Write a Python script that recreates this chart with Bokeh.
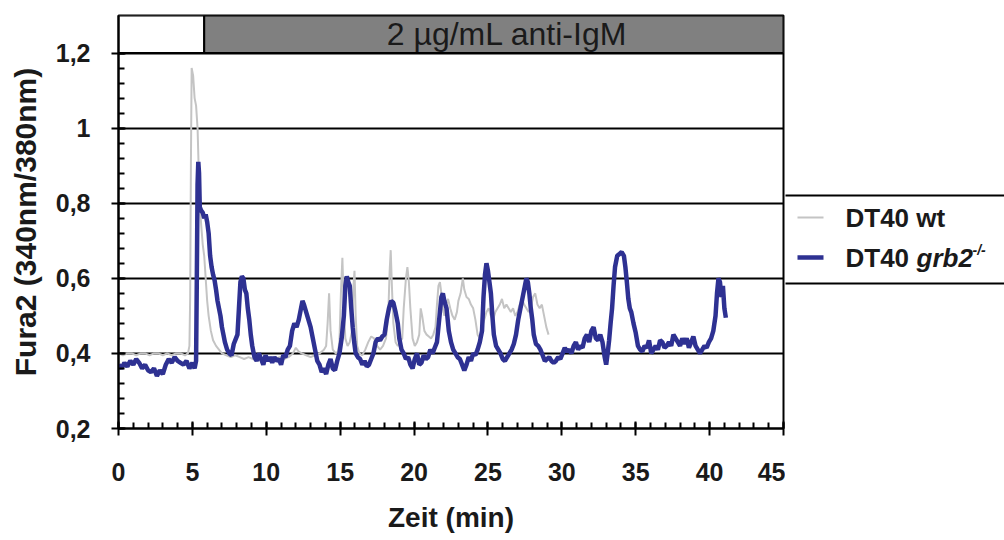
from bokeh.plotting import figure
from bokeh.models import FixedTicker, CustomJSTickFormatter, Label
from bokeh.layouts import row
from bokeh.core.properties import value
from bokeh.embed import file_html
from bokeh.resources import INLINE

# ---------------- data ----------------
grb2_t = [0.0,0.2,0.4,0.6,0.8,1.0,1.2,1.4,1.6,1.8,2.0,2.2,2.4,2.6,2.8,3.0,3.2,3.4,3.6,3.8,4.0,4.2,4.4,4.6,4.8,5.0,5.15,5.25,
          5.3,5.35,5.4,5.45,5.5,5.6,5.7,5.8,5.9,6.0,6.1,6.2,6.3,6.4,6.5,6.6,6.7,6.8,6.9,7.0,7.1,7.2,7.35,7.5,7.65,7.8,7.95,
          8.05,8.15,8.25,8.35,8.45,8.55,8.65,8.75,8.85,8.95,9.05,9.2,9.35,9.5,9.65,9.8,9.95,10.1,10.25,10.4,10.55,10.7,10.85,
          11.0,11.15,11.3,11.45,11.6,11.75,11.9,12.05,12.2,12.35,12.45,12.55,12.7,12.85,13.0,13.15,13.3,13.45,13.6,13.75,13.9,
          14.05,14.2,14.35,14.5,14.65,14.8,14.95,15.1,15.25,15.35,15.45,15.55,15.65,15.75,15.85,15.95,16.05,16.2,16.35,16.5,
          16.65,16.8,16.95,17.1,17.25,17.4,17.55,17.7,17.85,18.0,18.15,18.3,18.45,18.6,18.75,18.9,19.0,19.15,19.3,19.45,19.6,
          19.75,19.9,20.05,20.2,20.35,20.5,20.65,20.8,20.95,21.1,21.25,21.4,21.55,21.7,21.85,21.95,22.05,22.2,22.35,22.5,22.65,
          22.8,22.95,23.1,23.25,23.4,23.55,23.7,23.85,24.0,24.15,24.3,24.45,24.6,24.7,24.8,24.9,25.0,25.1,25.2,25.3,25.4,25.55,
          25.7,25.85,26.0,26.15,26.3,26.45,26.6,26.75,26.9,27.05,27.2,27.35,27.5,27.6,27.7,27.8,27.9,28.0,28.1,28.25,28.4,
          28.55,28.7,28.85,29.0,29.15,29.3,29.45,29.6,29.75,29.9,30.05,30.2,30.35,30.5,30.65,30.8,30.95,31.1,31.25,31.4,31.55,
          31.7,31.85,32.0,32.15,32.3,32.45,32.6,32.75,32.9,33.0,33.1,33.2,33.3,33.4,33.5,33.6,33.75,33.9,34.05,34.2,34.3,34.4,
          34.5,34.6,34.7,34.85,35.0,35.15,35.3,35.45,35.6,35.75,35.9,36.05,36.2,36.35,36.5,36.65,36.8,36.95,37.1,37.25,37.4,
          37.55,37.7,37.85,38.0,38.15,38.3,38.45,38.6,38.75,38.9,39.05,39.2,39.35,39.5,39.65,39.8,39.95,40.1,40.25,40.4,40.5,
          40.6,40.7,40.8,40.9,41.0,41.1]
grb2_v = [0.37,0.36,0.375,0.365,0.38,0.37,0.385,0.375,0.36,0.37,0.355,0.35,0.36,0.34,0.355,0.345,0.37,0.385,0.375,0.39,0.38,0.375,0.37,0.38,0.36,0.375,0.36,0.38,
          0.6,0.85,0.91,0.88,0.79,0.78,0.775,0.76,0.77,0.75,0.72,0.66,0.63,0.61,0.595,0.57,0.54,0.52,0.5,0.47,0.45,0.43,0.41,0.4,0.395,0.425,0.44,
          0.45,0.52,0.59,0.605,0.6,0.57,0.56,0.52,0.49,0.45,0.42,0.39,0.38,0.4,0.385,0.37,0.395,0.38,0.39,0.375,0.39,0.38,0.385,
          0.37,0.395,0.39,0.41,0.42,0.46,0.48,0.47,0.49,0.52,0.54,0.53,0.51,0.49,0.47,0.44,0.41,0.38,0.37,0.35,0.36,
          0.345,0.37,0.385,0.36,0.355,0.38,0.4,0.44,0.5,0.58,0.605,0.59,0.58,0.52,0.47,0.43,0.4,0.39,0.385,0.37,
          0.38,0.365,0.37,0.385,0.4,0.43,0.44,0.435,0.445,0.45,0.49,0.52,0.54,0.535,0.51,0.48,0.44,0.41,0.4,0.385,0.39,
          0.37,0.36,0.385,0.4,0.37,0.375,0.395,0.385,0.39,0.41,0.4,0.415,0.43,0.49,0.55,0.56,0.54,0.52,0.46,0.43,0.41,
          0.4,0.39,0.385,0.37,0.355,0.37,0.39,0.38,0.4,0.395,0.41,0.43,0.46,0.55,0.61,0.64,0.62,0.59,0.56,0.5,0.45,0.42,
          0.41,0.4,0.385,0.38,0.39,0.4,0.41,0.425,0.45,0.49,0.52,0.55,0.58,0.6,0.59,0.56,0.52,0.49,0.45,0.425,0.42,
          0.41,0.395,0.38,0.385,0.39,0.38,0.375,0.38,0.39,0.385,0.4,0.415,0.405,0.41,0.4,0.42,0.43,0.41,0.42,0.415,0.44,
          0.45,0.43,0.46,0.47,0.44,0.435,0.45,0.43,0.39,0.37,0.4,0.435,0.48,0.52,0.58,0.63,0.66,0.665,0.67,0.66,0.63,0.59,
          0.545,0.52,0.51,0.48,0.455,0.42,0.41,0.405,0.42,0.415,0.435,0.4,0.41,0.42,0.41,0.435,0.43,0.415,0.42,0.43,0.42,
          0.45,0.44,0.43,0.42,0.44,0.425,0.44,0.415,0.43,0.445,0.42,0.41,0.4,0.41,0.42,0.415,0.43,0.44,0.46,0.5,0.56,
          0.6,0.59,0.55,0.58,0.52,0.495]

wt_t = [0.0,0.3,0.6,0.9,1.2,1.5,1.8,2.1,2.4,2.7,3.0,3.3,3.6,3.9,4.2,4.5,4.7,4.8,4.85,4.9,4.95,5.05,5.15,5.25,5.35,5.45,5.5,
        5.6,5.7,5.8,5.9,6.0,6.1,6.25,6.4,6.6,6.8,7.0,7.3,7.6,7.9,8.2,8.5,8.8,9.1,9.4,9.7,10.0,10.3,10.6,10.9,11.2,11.5,11.8,
        12.0,12.2,12.4,12.7,13.0,13.3,13.6,13.9,14.05,14.15,14.25,14.35,14.5,14.7,14.85,14.95,15.05,15.15,15.25,15.35,15.5,
        15.65,15.8,15.9,15.97,16.05,16.15,16.3,16.5,16.7,16.9,17.1,17.3,17.5,17.7,17.9,18.1,18.25,18.35,18.42,18.5,18.6,
        18.75,18.9,19.05,19.2,19.3,19.45,19.55,19.65,19.75,19.9,20.05,20.2,20.35,20.45,20.55,20.7,20.85,21.0,21.15,21.3,
        21.45,21.55,21.65,21.75,21.85,21.95,22.05,22.15,22.3,22.45,22.6,22.75,22.9,23.0,23.15,23.3,23.4,23.55,23.7,23.85,
        24.0,24.15,24.3,24.45,24.6,24.75,24.9,25.05,25.2,25.35,25.5,25.65,25.8,25.95,26.1,26.25,26.4,26.55,26.7,26.85,27.0,
        27.15,27.3,27.45,27.6,27.75,27.9,28.05,28.2,28.35,28.5,28.65,28.8,28.95,29.1]
wt_v = [0.4,0.395,0.4,0.4,0.395,0.4,0.4,0.395,0.4,0.4,0.395,0.4,0.395,0.4,0.4,0.395,0.4,0.42,0.55,0.9,1.16,1.14,1.08,1.06,1.0,0.86,0.8,
        0.74,0.69,0.66,0.6,0.54,0.5,0.46,0.435,0.42,0.41,0.4,0.395,0.39,0.395,0.39,0.385,0.39,0.385,0.38,0.385,0.38,0.39,0.385,0.39,0.385,0.39,0.4,
        0.415,0.405,0.4,0.395,0.39,0.395,0.4,0.41,0.42,0.48,0.56,0.46,0.41,0.4,0.405,0.43,0.56,0.655,0.52,0.44,0.42,
        0.43,0.46,0.58,0.62,0.5,0.42,0.4,0.395,0.41,0.43,0.445,0.44,0.42,0.41,0.42,0.44,0.5,0.62,0.675,0.58,0.48,
        0.43,0.42,0.43,0.44,0.52,0.6,0.63,0.59,0.52,0.44,0.42,0.43,0.45,0.52,0.5,0.46,0.45,0.445,0.44,0.45,
        0.47,0.53,0.58,0.59,0.56,0.52,0.5,0.53,0.545,0.52,0.5,0.49,0.51,0.54,0.56,0.6,0.57,0.55,0.545,0.53,
        0.52,0.49,0.45,0.44,0.47,0.49,0.51,0.52,0.5,0.49,0.51,0.52,0.53,0.545,0.52,0.53,0.52,0.51,0.52,0.5,0.51,
        0.53,0.545,0.53,0.52,0.51,0.52,0.55,0.56,0.53,0.52,0.53,0.5,0.47,0.45]

x_ticks = [0, 5, 10, 15, 20, 25, 30, 35, 40, 45]
y_ticks = [0.2, 0.4, 0.6, 0.8, 1.0, 1.2]
stim_start, stim_end = 5.8, 45
stim_label = "2 µg/mL anti-IgM"
legend_prefix = ["DT40 wt", "DT40"]
legend_gene = "grb2"
legend_sup = "-/-"
WT_COLOR = "#c4c4c4"
GRB_COLOR = "#2e3192"
FONT = "Liberation Sans"
TXT = "#1a1a1a"

# ---------------- main plot ----------------
p = figure(width=785, height=540, output_backend="svg", toolbar_location=None,
           x_range=(0, 45), y_range=(0.2, 1.3),
           min_border_left=118, min_border_right=2, min_border_top=15, min_border_bottom=112)
p.background_fill_color = "white"
p.border_fill_color = "white"
p.outline_line_color = "black"
p.outline_line_width = 2
p.xgrid.visible = False
p.ygrid.ticker = FixedTicker(ticks=[0.4, 0.6, 0.8, 1.0, 1.2])
p.ygrid.grid_line_color = "black"
p.ygrid.grid_line_width = 2

# stimulation band
p.quad(left=[0], right=[stim_start], bottom=[1.2], top=[1.3], fill_color="white", line_color="black", line_width=2)
p.quad(left=[stim_start], right=[stim_end], bottom=[1.2], top=[1.3], fill_color="#808080", line_color="black", line_width=2)
p.add_layout(Label(x=(stim_start + stim_end) / 2 + 0.9, y=1.25, text=stim_label, text_align="center",
                   text_baseline="middle", text_font=FONT, text_font_size="32px", text_color=TXT))

wt_r = p.line(wt_t, wt_v, line_color=WT_COLOR, line_width=2)
grb_r = p.line(grb2_t, grb2_v, line_color=GRB_COLOR, line_width=4.5)

xa = p.xaxis[0]
xa.ticker = FixedTicker(ticks=x_ticks, minor_ticks=list(range(0, 46)))
ya = p.yaxis[0]
ya.ticker = FixedTicker(ticks=y_ticks, minor_ticks=[round(0.2 + 0.04 * i, 2) for i in range(26)])
ya.formatter = CustomJSTickFormatter(code="var s = tick.toFixed(1).replace('.', ','); return s.endsWith(',0') ? s.slice(0, -2) : s;")
for ax in (xa, ya):
    ax.axis_line_color = "black"
    ax.axis_line_width = 2
    ax.major_tick_line_color = "black"
    ax.major_tick_line_width = 2
    ax.minor_tick_line_color = "black"
    ax.minor_tick_line_width = 2
    ax.major_tick_in = 7
    ax.major_tick_out = 7
    ax.minor_tick_in = 6
    ax.minor_tick_out = 0
    ax.major_label_text_font = FONT
    ax.major_label_text_font_style = "bold"
    ax.major_label_text_font_size = "25px"
    ax.major_label_text_color = TXT
    ax.axis_label_text_font = FONT
    ax.axis_label_text_font_style = "bold"
    ax.axis_label_text_color = TXT
xa.axis_label = "Zeit (min)"
xa.axis_label_text_font_size = "28px"
xa.major_label_standoff = 27
xa.axis_label_standoff = 18
ya.axis_label = "Fura2 (340nm/380nm)"
ya.axis_label_text_font_size = "30px"
ya.major_label_standoff = 21
ya.axis_label_standoff = 11

# ---------------- legend panel (right of the plot) ----------------
# its frame is aligned with the main plot's frame (screen rows 15..428),
# so the y range is set up in screen pixels, counted from the top
lg = figure(width=219, height=540, output_backend="svg", toolbar_location=None,
            x_range=(0, 219), y_range=(428, 15), x_axis_type=None, y_axis_type=None,
            min_border_left=0, min_border_right=0, min_border_top=15, min_border_bottom=112)
lg.outline_line_color = None
lg.grid.visible = False
lg.background_fill_color = "white"
lg.border_fill_color = "white"
box_top, box_bottom = 195, 283
row_y = [217, 257]
lg.segment(x0=[-5, -5], y0=[box_top, box_bottom], x1=[230, 230], y1=[box_top, box_bottom],
           line_color="black", line_width=2)
lg.segment(x0=[12, 12], y0=row_y, x1=[38, 38], y1=row_y, line_color=[WT_COLOR, GRB_COLOR], line_width=[2, 4.5])
lg.text(x=[60, 60], y=row_y, text=legend_prefix, text_font=value(FONT), text_font_style="bold",
        text_font_size="26px", text_color=TXT, text_baseline="middle")
lg.text(x=[131], y=[row_y[1]], text=[legend_gene], text_font=value(FONT), text_font_style="bold italic",
        text_font_size="26px", text_color=TXT, text_baseline="middle")
lg.text(x=[187], y=[row_y[1] - 8], text=[legend_sup], text_font=value(FONT), text_font_style="bold italic",
        text_font_size="14px", text_color=TXT, text_baseline="middle")

open("out.html", "w").write(file_html(row(p, lg), INLINE))
